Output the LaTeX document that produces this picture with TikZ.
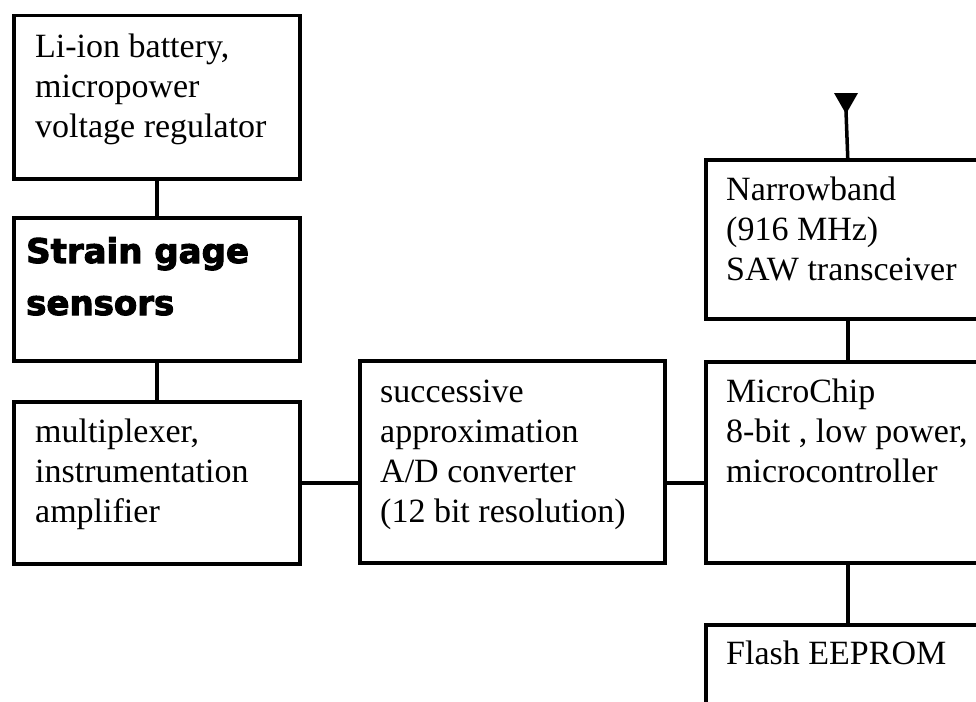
\documentclass[tikz,border=0pt]{standalone}
\usepackage{fontspec}
\setmainfont{Liberation Serif}
\newfontfamily\heavyfont{DejaVu Sans Bold}[FakeBold=3]
\begin{document}
\begin{tikzpicture}[x=1pt,y=-1pt,
  box/.style={draw=black, line width=3.5pt, rectangle, inner sep=0pt, anchor=north west},
  conn/.style={draw=black, line width=3.5pt},
  txt/.style={anchor=base west, inner sep=0pt, font=\fontsize{34}{40}\selectfont},
  heavytxt/.style={anchor=base west, inner sep=0pt, font=\heavyfont\fontsize{34}{52}\selectfont}]
\useasboundingbox (0,0) rectangle (976,701);
\clip (0,0) rectangle (976,701);
% boxes
\node[box, minimum width=286pt, minimum height=163pt] (bat) at (12,14) {};
\node[box, minimum width=286pt, minimum height=143pt] (str) at (12,216) {};
\node[box, minimum width=286pt, minimum height=162pt] (mux) at (12,400) {};
\node[box, minimum width=305pt, minimum height=202pt] (adc) at (358,359) {};
\node[box, minimum width=284pt, minimum height=159pt] (trx) at (704,158) {};
\node[box, minimum width=284pt, minimum height=201pt] (mcu) at (704,360) {};
\node[box, minimum width=284pt, minimum height=120pt] (fls) at (704,623) {};
% texts
\node[txt] (tbat) at (35,57) {\parbox[t]{300pt}{\raggedright Li-ion battery,\\micropower\\voltage regulator}};
\node[heavytxt] (tstr) at (26,263) {\parbox[t]{300pt}{\raggedright Strain gage\\sensors}};
\node[txt] (tmux) at (35,442) {\parbox[t]{300pt}{\raggedright multiplexer,\\instrumentation\\amplifier}};
\node[txt] (tadc) at (380,402) {\parbox[t]{300pt}{\raggedright successive\\approximation\\A/D converter\\(12 bit resolution)}};
\node[txt] (ttrx) at (726,200) {\parbox[t]{300pt}{\raggedright Narrowband\\(916 MHz)\\SAW transceiver}};
\node[txt] (tmcu) at (726,402) {\parbox[t]{300pt}{\raggedright MicroChip\\8-bit , low power,\\microcontroller}};
\node[txt] (tfls) at (726,664) {Flash EEPROM};
% connectors
\draw[conn] (bat) -- (str);
\draw[conn] (str) -- (mux);
\draw[conn] (mux.east) -- (mux.east -| adc.west);
\draw[conn] (mux.east -| adc.east) -- (mux.east -| mcu.west);
\draw[conn] (trx) -- (mcu);
\draw[conn] (mcu) -- (fls);
% antenna
\coordinate (ant) at (846,111);
\draw[conn] (trx.north) -- (ant);
\fill[black] (834,93) -- (858,93) -- (846,114) -- cycle;
\end{tikzpicture}
\end{document}
